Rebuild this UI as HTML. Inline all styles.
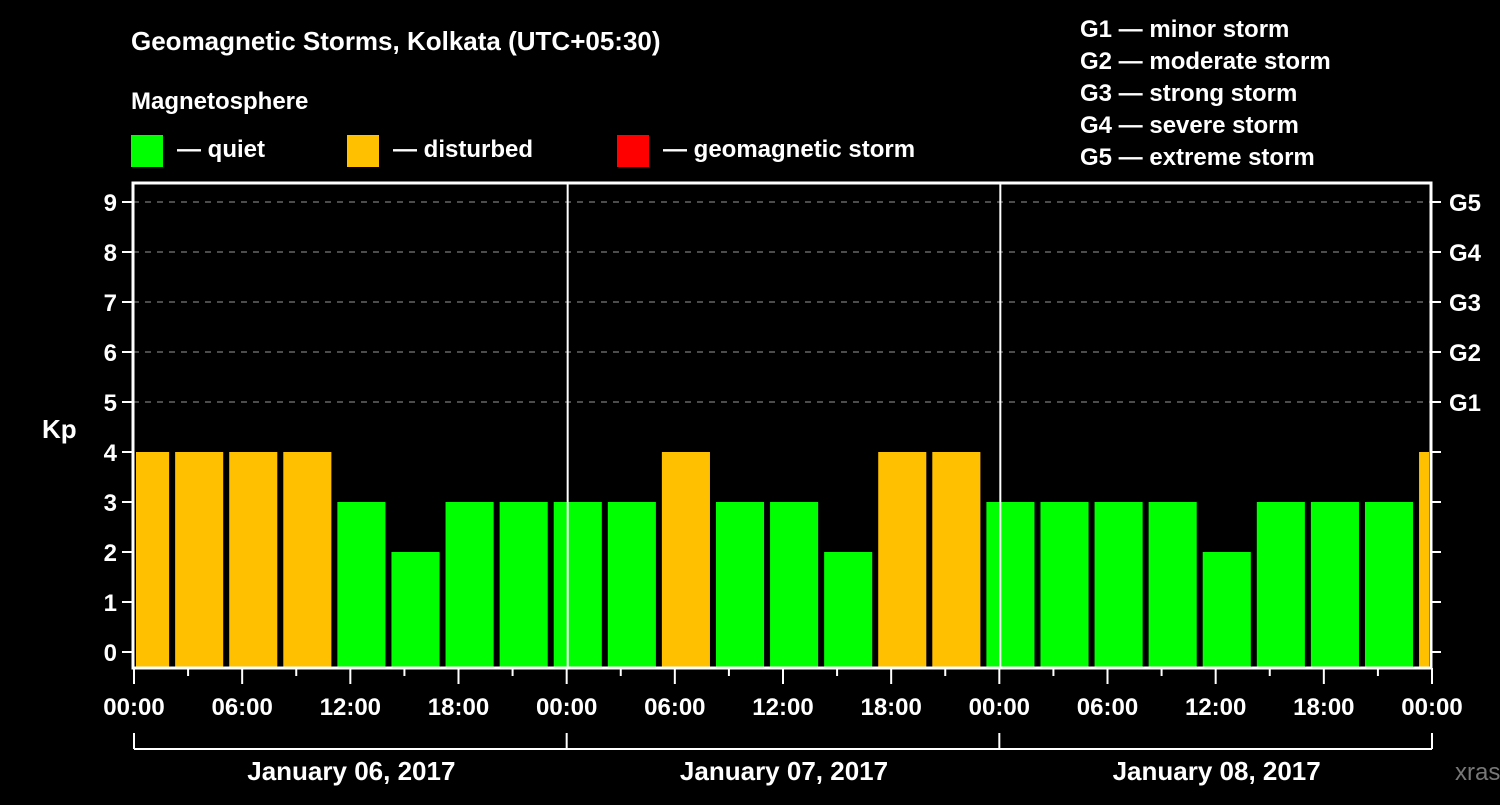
<!DOCTYPE html>
<html><head><meta charset="utf-8"><style>
body{margin:0;background:#000;width:1500px;height:800px;overflow:hidden}
svg text{font-family:"Liberation Sans",sans-serif;font-weight:bold;fill:#fff}
</style></head><body>
<svg id="c" width="1500" height="800">
<text x="131" y="50" font-size="26">Geomagnetic Storms, Kolkata (UTC+05:30)</text>
<text x="131" y="109" font-size="24">Magnetosphere</text>
<g><rect x="131" y="135" width="32" height="32" fill="#00ff00"/><text x="177" y="157" font-size="24">— quiet</text></g>
<g><rect x="347" y="135" width="32" height="32" fill="#ffc000"/><text x="393" y="157" font-size="24">— disturbed</text></g>
<g><rect x="617" y="135" width="32" height="32" fill="#ff0000"/><text x="663" y="157" font-size="24">— geomagnetic storm</text></g>
<g font-size="24">
<text x="1080" y="37">G1 — minor storm</text>
<text x="1080" y="69">G2 — moderate storm</text>
<text x="1080" y="101">G3 — strong storm</text>
<text x="1080" y="133">G4 — severe storm</text>
<text x="1080" y="165">G5 — extreme storm</text>
</g>
<text x="42" y="438" font-size="26">Kp</text>
<text x="1455" y="780" font-size="24" fill="#888" style="fill:#777;font-weight:normal">xras.ru</text>
<g id="plot"></g>
</svg>
<script>
const kpValues=[4,4,4,4,3,2,3,3,3,3,4,3,3,2,4,4,3,3,3,3,2,3,3,3,4];
const dayLabels=["January 06, 2017","January 07, 2017","January 08, 2017"];
const yTicks=[0,1,2,3,4,5,6,7,8,9];
const gLabels=["G1","G2","G3","G4","G5"];
const timeLabels=["00:00","06:00","12:00","18:00"];
const binStartHour=-0.94;
const L=133,R=1431,T=183,B=668;
const pxH=(R-L)/72;
const X=h=>L+2+h*pxH;
const Y=v=>652-v*50;
const NS="http://www.w3.org/2000/svg";
const g=document.getElementById('plot');
function mk(t,a,p){const e=document.createElementNS(NS,t);for(const k in a)e.setAttribute(k,a[k]);(p||g).appendChild(e);return e;}
// grid
for(let v=5;v<=9;v++){const e=mk('line',{x1:L,x2:R,y1:Y(v),y2:Y(v),stroke:'#999','stroke-dasharray':'6 6','stroke-width':1});

}
// bars
kpValues.forEach((v,i)=>{
 let x0=X(binStartHour+3*i)+3,x1=X(binStartHour+3*(i+1))-3;
 x0=Math.max(x0,L+3);x1=Math.min(x1,R-2);
 const col=v>=5?'#ff0000':(v>=4?'#ffc000':'#00ff00');
 const r=mk('rect',{x:x0,y:Y(v),width:x1-x0,height:B-1-Y(v),fill:col});
 
 
});
// day separators
for(let d=1;d<3;d++){const e=mk('line',{x1:X(24*d),x2:X(24*d),y1:T,y2:B,stroke:'#fff','stroke-width':2});

}
// border
const bd=mk('rect',{x:L,y:T,width:R-L,height:B-T,fill:'none',stroke:'#fff','stroke-width':3});


// y ticks
yTicks.forEach(v=>{
 mk('line',{x1:L-11,x2:L,y1:Y(v),y2:Y(v),stroke:'#fff','stroke-width':2});
 mk('line',{x1:R,x2:R+10,y1:Y(v),y2:Y(v),stroke:'#fff','stroke-width':2});
 const t=mk('text',{x:L-16,y:Y(v)+9,'text-anchor':'end','font-size':24});t.textContent=v;
 
 
});
gLabels.forEach((s,i)=>{const t=mk('text',{x:R+18,y:Y(5+i)+9,'font-size':24});t.textContent=s;
 
 });
// x ticks
for(let h=0;h<=72;h+=3){const maj=h%6===0;mk('line',{x1:X(h)-1,x2:X(h)-1,y1:B,y2:B+(maj?16:8),stroke:'#fff','stroke-width':2});}
for(let h=0;h<=72;h+=6){const t=mk('text',{x:X(h)-1,y:715,'text-anchor':'middle','font-size':24});t.textContent=timeLabels[(h/6)%4];
 
 }
// bracket
mk('line',{x1:X(0)-1,x2:X(72)-1,y1:749,y2:749,stroke:'#fff','stroke-width':2});
for(let d=0;d<=3;d++)mk('line',{x1:X(24*d)-1,x2:X(24*d)-1,y1:733,y2:749,stroke:'#fff','stroke-width':2});
dayLabels.forEach((s,d)=>{const t=mk('text',{x:X(24*d+12),y:780,'text-anchor':'middle','font-size':26});t.textContent=s;
 
 });
</script>
</body></html>
